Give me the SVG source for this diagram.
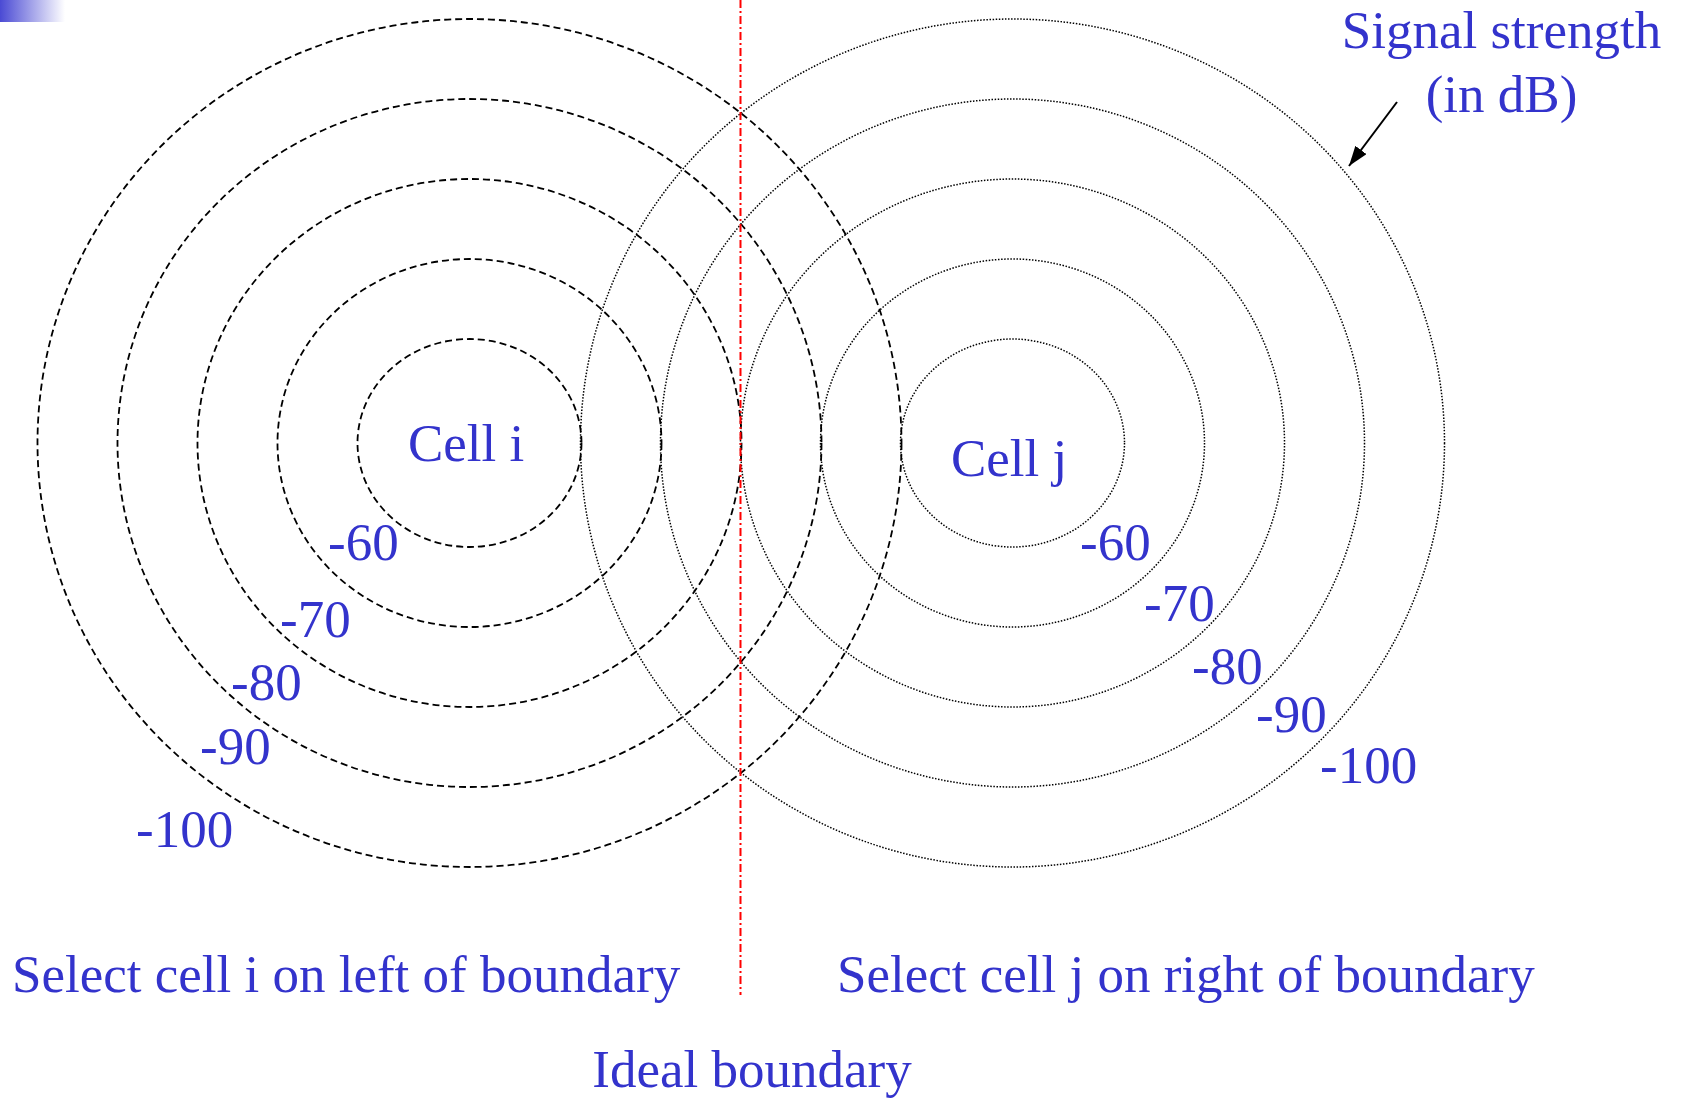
<svg xmlns="http://www.w3.org/2000/svg" width="1684" height="1099" viewBox="0 0 1684 1099">
  <defs>
    <linearGradient id="corner" x1="0" y1="0" x2="1" y2="0">
      <stop offset="0" stop-color="#4A4AD4"/>
      <stop offset="1" stop-color="#FFFFFF"/>
    </linearGradient>
    <marker id="arrow" viewBox="0 0 20 14" refX="20" refY="7" markerWidth="20" markerHeight="14" markerUnits="userSpaceOnUse" orient="auto">
      <path d="M0,0 L20,7 L0,14 Z" fill="#000"/>
    </marker>
  </defs>
  <style>
    .lbl { font-family: "Liberation Serif", "Times New Roman", serif; font-size: 53px; fill: #3333CC; }
    .mid { text-anchor: middle; }
    .ci { fill: none; stroke: #000; stroke-width: 1.8; stroke-dasharray: 7 4; }
    .cj { fill: none; stroke: #000; stroke-width: 1.5; stroke-dasharray: 1.5 1.6; }
    .bound { stroke: #FF0000; stroke-width: 2; stroke-dasharray: 8 3 2 3; fill: none; }
  </style>
  <rect x="0" y="0" width="65" height="22" fill="url(#corner)"/>

  <g id="cell-i">
    <ellipse class="ci" cx="469.5" cy="443" rx="112" ry="104"/>
    <ellipse class="ci" cx="469.5" cy="443" rx="192" ry="184"/>
    <ellipse class="ci" cx="469.5" cy="443" rx="272" ry="264"/>
    <ellipse class="ci" cx="469.5" cy="443" rx="352" ry="344"/>
    <ellipse class="ci" cx="469.5" cy="443" rx="432" ry="424"/>
    <text class="lbl" x="408" y="461">Cell i</text>
    <text class="lbl" x="328" y="560">-60</text>
    <text class="lbl" x="280" y="637">-70</text>
    <text class="lbl" x="231" y="700">-80</text>
    <text class="lbl" x="200" y="764">-90</text>
    <text class="lbl" x="136" y="847">-100</text>
  </g>

  <g id="cell-j">
    <ellipse class="cj" cx="1012.5" cy="443" rx="112" ry="104"/>
    <ellipse class="cj" cx="1012.5" cy="443" rx="192" ry="184"/>
    <ellipse class="cj" cx="1012.5" cy="443" rx="272" ry="264"/>
    <ellipse class="cj" cx="1012.5" cy="443" rx="352" ry="344"/>
    <ellipse class="cj" cx="1012.5" cy="443" rx="432" ry="424"/>
    <text class="lbl" x="951" y="476">Cell j</text>
    <text class="lbl" x="1080" y="560">-60</text>
    <text class="lbl" x="1144" y="621">-70</text>
    <text class="lbl" x="1192" y="684">-80</text>
    <text class="lbl" x="1256" y="732">-90</text>
    <text class="lbl" x="1320" y="783">-100</text>
  </g>

  <g id="boundary">
    <line class="bound" x1="740.5" y1="0" x2="740.5" y2="995"/>
  </g>

  <g id="signal-label">
    <text class="lbl mid" x="1501.5" y="48">Signal strength</text>
    <text class="lbl mid" x="1501.5" y="112">(in dB)</text>
  </g>

  <g id="connectors">
    <line x1="1397" y1="102" x2="1349" y2="166" stroke="#000" stroke-width="2" marker-end="url(#arrow)"/>
  </g>

  <g id="captions">
    <text class="lbl" x="12" y="992">Select cell i on left of boundary</text>
    <text class="lbl" x="837" y="992">Select cell j on right of boundary</text>
    <text class="lbl mid" x="752" y="1087">Ideal boundary</text>
  </g>
</svg>
